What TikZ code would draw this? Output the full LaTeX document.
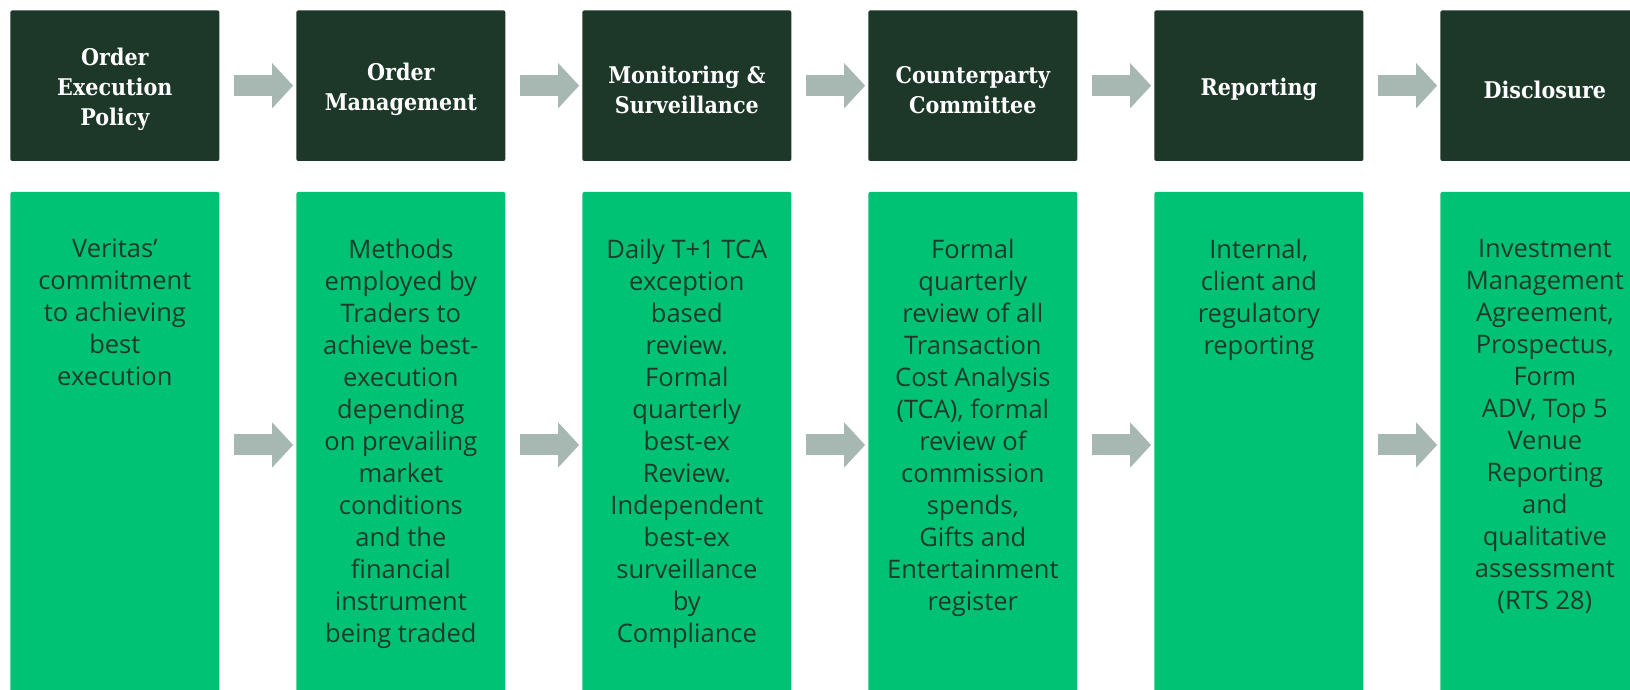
\documentclass[tikz,border=0pt]{standalone}
\usepackage{fontspec}
\setmainfont{Open Sans}
\newfontfamily\slabfont[FakeStretch=0.9]{DejaVu Serif}
\usetikzlibrary{arrows.meta,positioning,calc}

\definecolor{pinedark}{HTML}{1D3729}
\definecolor{leafgreen}{HTML}{00C274}
\definecolor{arrowgrey}{HTML}{A7B7B2}
\definecolor{inkgreen}{HTML}{1E3A2B}

\tikzset{
  headbox/.style={fill=pinedark, rounded corners=2pt, minimum width=209pt,
    minimum height=150.6pt, inner sep=0pt},
  headtext/.style={text=white, align=center, inner sep=0pt,
    font=\slabfont\bfseries\fontsize{23}{30}\selectfont},
  bodybox/.style={fill=leafgreen, rounded corners=2pt, minimum width=209pt,
    minimum height=520pt, inner sep=0pt},
  bodytext/.style={text=inkgreen, align=center, anchor=north, inner sep=0pt,
    font=\fontsize{25.5}{32}\selectfont},
  flowarrow/.style={arrowgrey, line width=21pt,
    -{Triangle[length=21pt,width=44pt]}, shorten <=14pt, shorten >=3pt}
}

\begin{document}
\begin{tikzpicture}[x=1pt, y=1pt]

  \useasboundingbox (0,0) rectangle (1630,690);
  \clip (0,0) rectangle (1630,690);

  % heading row
  \node[headbox] (h1) at (114.85,604.3) {};
  \node[headbox] (h2) at (400.85,604.3) {};
  \node[headbox] (h3) at (686.85,604.3) {};
  \node[headbox] (h4) at (972.85,604.3) {};
  \node[headbox] (h5) at (1258.85,604.3) {};
  \node[headbox] (h6) at (1544.85,604.3) {};

  \node[headtext] (ht1) at ([yshift=-4pt]h1.center) {Order\\Execution\\Policy};
  \node[headtext] (ht2) at ([yshift=-4pt]h2.center) {Order\\Management};
  \node[headtext] (ht3) at ([yshift=-4pt]h3.center) {Monitoring \&\\Surveillance};
  \node[headtext] (ht4) at ([yshift=-4pt]h4.center) {Counterparty\\Committee};
  \node[headtext] (ht5) at ([yshift=-4pt]h5.center) {Reporting};
  \node[headtext] (ht6) at ([yshift=-4pt]h6.center) {Disclosure};

  % detail row
  \node[bodybox] (b1) at (114.85,238) {};
  \node[bodybox] (b2) at (400.85,238) {};
  \node[bodybox] (b3) at (686.85,238) {};
  \node[bodybox] (b4) at (972.85,238) {};
  \node[bodybox] (b5) at (1258.85,238) {};
  \node[bodybox] (b6) at (1544.85,238) {};

  \node[bodytext] (t1) at (114.85,451) {Veritas’\\commitment\\to achieving\\best\\execution};
  \node[bodytext] (t2) at (400.85,451) {Methods\\employed by\\Traders to\\achieve best-\\execution\\depending\\on prevailing\\market\\conditions\\and the\\financial\\instrument\\being traded};
  \node[bodytext] (t3) at (686.85,451) {Daily T+1 TCA\\exception\\based\\review.\\Formal\\quarterly\\best-ex\\Review.\\Independent\\best-ex\\surveillance\\by\\Compliance};
  \node[bodytext] (t4) at (972.85,451) {Formal\\quarterly\\review of all\\Transaction\\Cost Analysis\\(TCA), formal\\review of\\commission\\spends,\\Gifts and\\Entertainment\\register};
  \node[bodytext] (t5) at (1258.85,451) {Internal,\\client and\\regulatory\\reporting};
  \node[bodytext] (t6) at (1544.85,451) {Investment\\Management\\Agreement,\\Prospectus,\\Form\\ADV, Top 5\\Venue\\Reporting\\and\\qualitative\\assessment\\(RTS 28)};

  % arrows
  \draw[flowarrow] (h1) -- (h2);
  \draw[flowarrow] (h2) -- (h3);
  \draw[flowarrow] (h3) -- (h4);
  \draw[flowarrow] (h4) -- (h5);
  \draw[flowarrow] (h5) -- (h6);
  \draw[flowarrow] ([yshift=7pt]b1.east) -- ([yshift=7pt]b2.west);
  \draw[flowarrow] ([yshift=7pt]b2.east) -- ([yshift=7pt]b3.west);
  \draw[flowarrow] ([yshift=7pt]b3.east) -- ([yshift=7pt]b4.west);
  \draw[flowarrow] ([yshift=7pt]b4.east) -- ([yshift=7pt]b5.west);
  \draw[flowarrow] ([yshift=7pt]b5.east) -- ([yshift=7pt]b6.west);

\end{tikzpicture}
\end{document}
